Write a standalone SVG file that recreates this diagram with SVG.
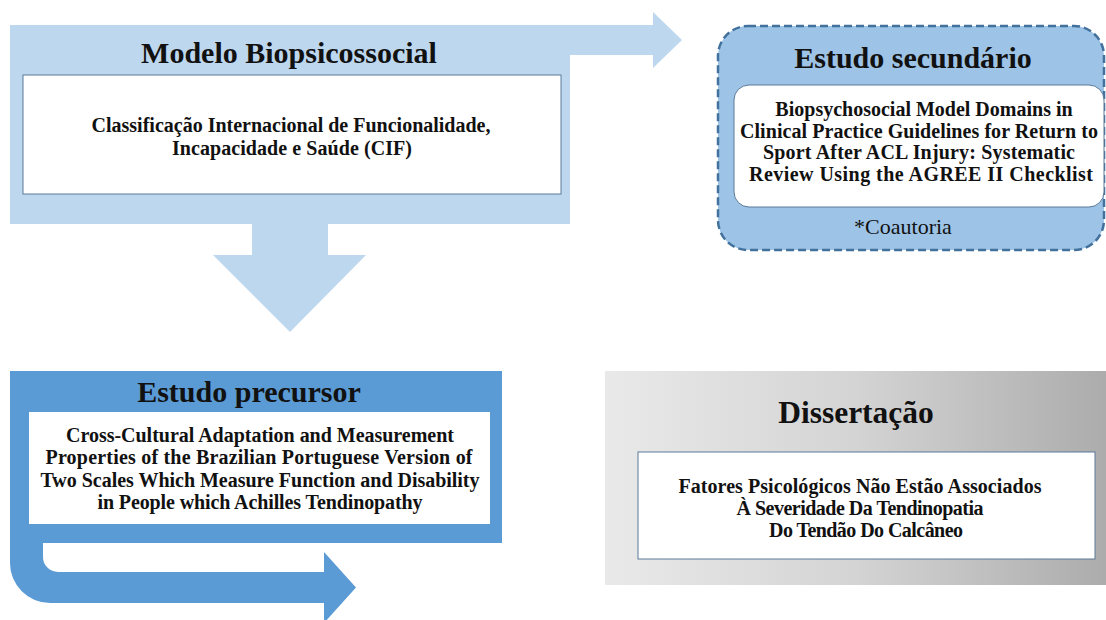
<svg xmlns="http://www.w3.org/2000/svg" width="1106" height="620" viewBox="0 0 1106 620">
<style>
text{font-family:"Liberation Serif","Times New Roman",serif;fill:#111;text-anchor:middle}
.t{font-size:30px;font-weight:bold}
.b{font-size:20px;font-weight:bold}
.r{font-size:22px}
.wb{fill:#fff;stroke:#5b7a99;stroke-width:1}
</style>
<defs>
<linearGradient id="gray" x1="0" y1="0" x2="1" y2="0">
<stop offset="0" stop-color="#e9e9e9"/>
<stop offset="0.5" stop-color="#d4d4d4"/>
<stop offset="1" stop-color="#acacac"/>
</linearGradient>
</defs>
<rect width="1106" height="620" fill="#fff"/>
<g id="connectors">
<path d="M10,25 H653 V12 L682,40 L653,68 V55 H570 V224 H328 V255 H366 L290,332 L213,255 H252 V224 H10 Z" fill="#bdd7ee"/>
<path d="M10,371 H502 V543 H43 V557 A15,15 0 0 0 58,572 H324 V552 L356,587.5 L324,623 V603 H50 A40,40 0 0 1 10,563 Z" fill="#5b9bd5"/>
</g>
<g id="modelo">
<rect class="wb" x="23" y="75" width="538" height="119"/>
<text class="t" x="289" y="63">Modelo Biopsicossocial</text>
<text class="b" x="291" y="132" textLength="399">Classificação Internacional de Funcionalidade,</text>
<text class="b" x="292" y="155" textLength="240">Incapacidade e Saúde (CIF)</text>
</g>
<g id="secundario">
<rect x="718" y="26" width="386" height="224" rx="30" fill="#9dc3e6" stroke="#41719c" stroke-width="2.5" stroke-dasharray="8 4"/>
<rect class="wb" x="734" y="85" width="370" height="122" rx="15"/>
<text class="t" x="913" y="68">Estudo secundário</text>
<text class="b" x="924" y="116">Biopsychosocial Model Domains in</text>
<text class="b" x="919" y="137.5" textLength="358">Clinical Practice Guidelines for Return to</text>
<text class="b" x="919" y="159" textLength="312">Sport After ACL Injury: Systematic</text>
<text class="b" x="921" y="180.5" textLength="344">Review Using the AGREE II Checklist</text>
<text class="r" x="903" y="234">*Coautoria</text>
</g>
<g id="precursor">
<rect x="29" y="412" width="461" height="112" fill="#fff"/>
<text class="t" x="249" y="402">Estudo precursor</text>
<text class="b" x="260" y="442" textLength="388">Cross-Cultural Adaptation and Measurement</text>
<text class="b" x="259" y="464" textLength="427">Properties of the Brazilian Portuguese Version of</text>
<text class="b" x="260" y="486.5" textLength="439">Two Scales Which Measure Function and Disability</text>
<text class="b" x="260" y="509" textLength="325">in People which Achilles Tendinopathy</text>
</g>
<g id="dissertacao">
<rect x="605" y="371" width="501" height="214" fill="url(#gray)"/>
<rect class="wb" x="638" y="452" width="457" height="107"/>
<text class="t" x="856" y="423" style="font-size:31.5px">Dissertação</text>
<text class="b" x="860" y="493" textLength="363">Fatores Psicológicos Não Estão Associados</text>
<text class="b" x="860" y="515" textLength="247">À Severidade Da Tendinopatia</text>
<text class="b" x="866" y="537" textLength="194">Do Tendão Do Calcâneo</text>
</g>
</svg>
